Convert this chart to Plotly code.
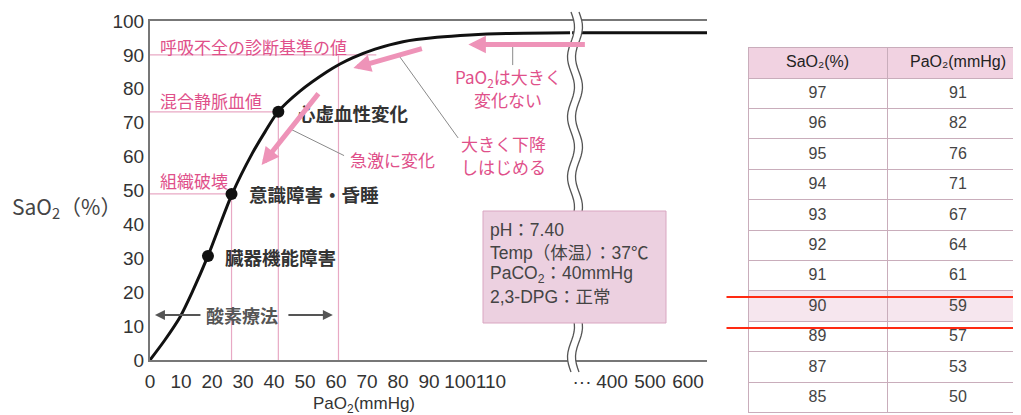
import numpy as np
import plotly.graph_objects as go

# ---------------- data ----------------
CURVE_PAO2 = [0, 4.8, 9.7, 13.9, 18.7, 26.5, 32.9, 37.1, 41.3, 48.4, 57.1, 61.3, 65.5, 72.6, 81.6, 92.6, 103.2, 115, 135.5]
CURVE_SAO2 = [0, 5.9, 12.7, 20.6, 30.7, 49.0, 60.8, 67.3, 73.2, 79.3, 85.0, 87.3, 89.2, 91.7, 93.9, 95.2, 95.9, 96.3, 96.5]
PLATEAU_PAO2 = [295, 650]
PLATEAU_SAO2 = [96.5, 96.5]

MARK_PAO2 = [18.7, 26.3, 41.4]
MARK_SAO2 = [30.7, 49.0, 73.2]

LEFT_TICKS = [0, 10, 20, 30, 40, 50, 60, 70, 80, 90, 100, 110]
RIGHT_TICKS = [321, 400, 500, 600]
RIGHT_TICKTEXT = ["···", "400", "500", "600"]
Y_TICKS = [0, 10, 20, 30, 40, 50, 60, 70, 80, 90, 100]

TABLE_SAO2 = [97, 96, 95, 94, 93, 92, 91, 90, 89, 87, 85]
TABLE_PAO2 = [91, 82, 76, 71, 67, 64, 61, 59, 57, 53, 50]
HIGHLIGHT_SAO2 = 90

W, H = 1021, 415
OFF = 8  # page body margin
PINK_TXT = "#e0508a"
PINK_LINE = "#e8a9c4"
PINK_ARROW = "#ee93b8"
GRAY = "#777777"
LAT = "Liberation Sans, Arial, Noto Sans CJK JP"
JP = "Noto Sans CJK JP, Liberation Sans"


def fx(px):
    return (px - OFF) / W


def fy(py):
    return 1 - (py - OFF) / H


fig = go.Figure()

fig.add_trace(go.Scatter(x=CURVE_PAO2, y=CURVE_SAO2, mode="lines",
                         line=dict(color="#111111", width=3, shape="spline", smoothing=0.8),
                         xaxis="x", yaxis="y", hoverinfo="skip"))
fig.add_trace(go.Scatter(x=PLATEAU_PAO2, y=PLATEAU_SAO2, mode="lines",
                         line=dict(color="#111111", width=3),
                         xaxis="x2", yaxis="y", hoverinfo="skip"))
fig.add_trace(go.Scatter(x=MARK_PAO2, y=MARK_SAO2, mode="markers",
                         marker=dict(color="#111111", size=12),
                         xaxis="x", yaxis="y", hoverinfo="skip"))

# table
row_fill = ["#f6e6ee" if v == HIGHLIGHT_SAO2 else "white" for v in TABLE_SAO2]
fig.add_trace(go.Table(
    domain=dict(x=[fx(748), 1.0], y=[0, fy(47)]),
    columnwidth=[139, 142],
    header=dict(values=["SaO₂(%)", "PaO₂(mmHg)"],
                fill_color="#f1d2e1", line_color="#c9adbb", line_width=1,
                font=dict(family=LAT, size=16, color="#222222"), height=31, align="center"),
    cells=dict(values=[TABLE_SAO2, TABLE_PAO2],
               fill_color=[row_fill, row_fill], line_color="#c9adbb", line_width=1,
               font=dict(family=LAT, size=16, color="#444444"), height=30.4, align="center"),
))

shapes = []
# pink reference lines
ref_lines = [
    (0, 90, 73, 90), (0, 73.2, 41.4, 73.2), (0, 49.0, 26.3, 49.0),
    (26.3, 0, 26.3, 49.0), (41.4, 0, 41.4, 73.2), (60.8, 0, 60.8, 90),
]
for x0, y0, x1, y1 in ref_lines:
    shapes.append(dict(type="line", xref="x", yref="y", x0=x0, y0=y0, x1=x1, y1=y1,
                       line=dict(color=PINK_LINE, width=1.2), layer="below"))
# gray leader lines
leaders = [(117, 92.4, 117, 87.0), (80.6, 89.4, 99.4, 65.5), (44.9, 68.3, 62.6, 60.3)]
for x0, y0, x1, y1 in leaders:
    shapes.append(dict(type="line", xref="x", yref="y", x0=x0, y0=y0, x1=x1, y1=y1,
                       line=dict(color="#8a8a8a", width=1)))

# wavy axis break
def wave(xc, y_top=12, y_bot=372, amp=3.5, period=60, n=90):
    pts = []
    for i in range(n + 1):
        y = y_top + (y_bot - y_top) * i / n
        x = xc + amp * np.sin(2 * np.pi * (y - y_top) / period)
        pts.append((x, y))
    return pts

w1 = wave(571)
w2 = wave(579)
poly = w1 + w2[::-1]
path_fill = "M " + " L ".join(f"{fx(x):.5f},{fy(y):.5f}" for x, y in poly) + " Z"
shapes.append(dict(type="path", xref="paper", yref="paper", path=path_fill,
                   fillcolor="white", line=dict(width=0)))
for wpts in (w1, w2):
    p = "M " + " L ".join(f"{fx(x):.5f},{fy(y):.5f}" for x, y in wpts)
    shapes.append(dict(type="path", xref="paper", yref="paper", path=p,
                       line=dict(color="#555555", width=1.3)))
# conditions box
shapes.append(dict(type="rect", xref="paper", yref="paper", x0=fx(483), x1=fx(666),
                   y0=fy(323), y1=fy(211), fillcolor="#ecd0e0",
                   line=dict(color="#d9a6c1", width=1)))

ann = []
for t, x, y in [("呼吸不全の診断基準の値", 2.6, 92.5), ("混合静脈血値", 2.6, 76.5), ("組織破壊", 2.6, 53)]:
    ann.append(dict(text=t, x=x, y=y, xref="x", yref="y", xanchor="left", yanchor="middle",
                    showarrow=False, font=dict(family=JP, size=17, color=PINK_TXT)))
for t, x, y in [("心虚血性変化", 46.8, 72.8), ("意識障害・昏睡", 31.3, 49.0), ("臓器機能障害", 23.5, 30.5)]:
    ann.append(dict(text=t, x=x, y=y, xref="x", yref="y", xanchor="left", yanchor="middle",
                    showarrow=False, font=dict(family=JP, size=18.5, color="#333333", weight="bold")))
ann.append(dict(text="酸素療法", x=29.8, y=13.3, xref="x", yref="y", showarrow=False,
                yanchor="middle", font=dict(family=JP, size=18, color="#555555", weight="bold")))
for hx, axp in [(1.6, 47), (59, -46)]:
    ann.append(dict(text="", x=hx, y=13.3, xref="x", yref="y", ax=axp, ay=0, showarrow=True,
                    arrowhead=2, arrowsize=1, arrowwidth=2, arrowcolor="#555555", standoff=0))
for t, x, y in [("PaO<sub>2</sub>は大きく", 115.6, 83.2), ("変化ない", 115.6, 76.7),
                ("大きく下降", 114, 63.9), ("しはじめる", 114, 57), ("急激に変化", 78.2, 59)]:
    ann.append(dict(text=t, x=x, y=y, xref="x", yref="y", showarrow=False, yanchor="middle",
                    font=dict(family=JP, size=17, color=PINK_TXT)))
# pink trend arrows
for hx, hy, axp, ayp in [(36.0, 57.5, 58, -73), (65.6, 86.1, 70, -20), (102.7, 93.1, 118, 0)]:
    ann.append(dict(text="", x=hx, y=hy, xref="x", yref="y", ax=axp, ay=ayp, showarrow=True,
                    arrowhead=2, arrowsize=0.7, arrowwidth=5, arrowcolor=PINK_ARROW, standoff=0))
# condition box text
for t, y in [("pH：7.40", 38.3), ("Temp（体温）：37℃", 31.5), ("PaCO<sub>2</sub>：40mmHg", 25.1), ("2,3-DPG：正常", 18.5)]:
    ann.append(dict(text=t, x=109.0, y=y, xref="x", yref="y", xanchor="left", yanchor="middle",
                    showarrow=False, font=dict(family=LAT, size=17.5, color="#444444")))
# axis titles
ann.append(dict(text="PaO<sub>2</sub>(mmHg)", x=fx(364), y=fy(405), xref="paper", yref="paper",
                xanchor="center", yanchor="middle",
                showarrow=False, font=dict(family=LAT, size=17, color="#333333")))
ann.append(dict(text="SaO<sub>2</sub>（%）", x=fx(10), y=fy(207), xref="paper", yref="paper",
                xanchor="left", yanchor="middle", showarrow=False,
                font=dict(family=JP, size=21, color="#444444")))
# red highlight lines over the table
for py in (297, 328):
    ann.append(dict(text="", x=1.0, y=fy(py), xref="paper", yref="paper", ax=-(W + OFF - 725), ay=0,
                    showarrow=True, arrowhead=0, arrowwidth=2, arrowcolor="#ff2a12",
                    standoff=0, startstandoff=0))

axis_common = dict(showgrid=False, zeroline=False, showline=True, linecolor=GRAY, linewidth=2,
                   ticks="", automargin=False, tickangle=0,
                   tickfont=dict(family=LAT, size=19, color="#333333"))
fig.update_layout(
    width=W, height=H, margin=dict(l=0, r=0, t=0, b=0),
    paper_bgcolor="white", plot_bgcolor="white", showlegend=False,
    xaxis=dict(domain=[fx(150), fx(572)], range=[0, (572 - 150) / 3.1], tickvals=LEFT_TICKS,
               anchor="y", mirror=True, ticklabelstandoff=3, **axis_common),
    xaxis2=dict(domain=[fx(572), fx(707)], range=[294.7, 650], tickvals=RIGHT_TICKS,
                ticktext=RIGHT_TICKTEXT, anchor="y", mirror=True, ticklabelstandoff=3, **axis_common),
    yaxis=dict(domain=[fy(360), fy(21)], range=[0, 100], tickvals=Y_TICKS, anchor="x", **axis_common),
    shapes=shapes, annotations=ann,
)

fig.write_html("out.html")
